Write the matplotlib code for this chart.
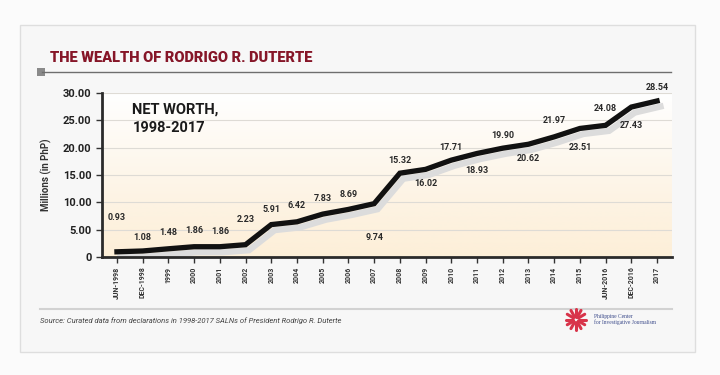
import numpy as np
import matplotlib
matplotlib.use('Agg')
import matplotlib.pyplot as plt
import matplotlib.transforms as mtrans
from matplotlib.patches import Rectangle
from matplotlib import font_manager as fm

# data
periods = ['JUN-1998', 'DEC-1998', '1999', '2000', '2001', '2002', '2003', '2004',
           '2005', '2006', '2007', '2008', '2009', '2010', '2011', '2012', '2013',
           '2014', '2015', 'JUN-2016', 'DEC-2016', '2017']
net_worth = [0.93, 1.08, 1.48, 1.86, 1.86, 2.23, 5.91, 6.42, 7.83, 8.69, 9.74,
             15.32, 16.02, 17.71, 18.93, 19.90, 20.62, 21.97, 23.51, 24.08, 27.43, 28.54]
y_ticks = [0, 5, 10, 15, 20, 25, 30]
y_ticklabels = ['0', '5.00', '10.00', '15.00', '20.00', '25.00', '30.00']

# label offsets (points)
lab_off = [25, 10, 12, 12, 11, 18, 11, 12, 11, 11, -24, 9, -10, 9, -12, 9, -10,
           12, -14, 12, -13, 10]

names = set(f.name for f in fm.fontManager.ttflist)
narrow = 'Roboto' if 'Roboto' in names else 'DejaVu Sans'

fig = plt.figure(figsize=(7.2, 3.75), dpi=100)
fig.patch.set_facecolor('#fbfbfb')

# card
card = Rectangle((0.028, 0.061), 0.937, 0.872, transform=fig.transFigure,
                 facecolor='#f7f7f7', edgecolor='#dedede', lw=1, zorder=-5)
fig.patches.append(card)

# title and rule
fig.text(0.069, 0.845, 'THE WEALTH OF RODRIGO R. DUTERTE', color='#861628',
         fontsize=10.5, fontweight='black', family=narrow, va='center')
fig.add_artist(plt.Line2D([0.058, 0.932], [0.808, 0.808], transform=fig.transFigure,
                          color='#6e6e6e', lw=1))
fig.patches.append(Rectangle((0.052, 0.797), 0.011, 0.022, transform=fig.transFigure,
                             facecolor='#8a8a8a', edgecolor='none'))

ax = fig.add_axes([0.1417, 0.315, 0.7916, 0.437])
ax.set_facecolor('none')
x = np.arange(len(periods))
ax.set_xlim(-0.58, len(periods) - 1 + 0.58)
ax.set_ylim(0, 30)

# cream gradient background
grad = np.linspace(0, 1, 256).reshape(-1, 1)
cmap = matplotlib.colors.LinearSegmentedColormap.from_list(
    'cr', ['#fdefd8', '#fdf3e3', '#fef9f1', '#ffffff'])
ax.imshow(grad, aspect='auto', cmap=cmap, extent=[-0.58, len(periods) - 0.42, 0, 30],
          origin='lower', zorder=0)
for yv in y_ticks[1:]:
    ax.axhline(yv, color='#dedbd5', lw=0.8, zorder=1)

shadow = ax.transData + mtrans.ScaledTranslation(2.5 / 72, -4 / 72, fig.dpi_scale_trans)
ax.plot(x, net_worth, color='#dcdcdc', lw=4.5, transform=shadow, zorder=2,
        solid_joinstyle='miter')
ax.plot(x, net_worth, color='#111111', lw=3.8, zorder=3, solid_joinstyle='miter')

for xi, v, off in zip(x, net_worth, lab_off):
    ax.annotate('%.2f' % v, (xi, v), xytext=(0, off), textcoords='offset points',
                ha='center', va='center', fontsize=6.5, fontweight='bold',
                color='#2a2a2a', family=narrow, zorder=4)

ax.text(0.6, 25.3, 'NET WORTH,\n1998-2017', fontsize=10.5, fontweight='bold',
        family=narrow, color='#1a1a1a', va='center', ha='left', linespacing=1.4)

for s in ['top', 'right']:
    ax.spines[s].set_visible(False)
ax.spines['left'].set_linewidth(2)
ax.spines['bottom'].set_linewidth(2)
ax.spines['left'].set_color('#2b2b2b')
ax.spines['bottom'].set_color('#2b2b2b')

ax.set_yticks(y_ticks)
ax.set_yticklabels(y_ticklabels, fontsize=8, fontweight='bold', family=narrow, color='#222222')
ax.set_xticks(x)
ax.set_xticklabels(periods, rotation=90, fontsize=5, fontweight='bold', family=narrow,
                   color='#333333')
ax.tick_params(axis='both', length=4, width=1, color='#333333')
ax.tick_params(axis='x', pad=3)
ax.set_ylabel('Millions (in PhP)', fontsize=7, fontweight='bold', family=narrow,
              color='#333333', labelpad=8)

# footer
fig.add_artist(plt.Line2D([0.056, 0.933], [0.176, 0.176], transform=fig.transFigure,
                          color='#d2d2d2', lw=1.5))
fig.text(0.056, 0.145, 'Source: Curated data from declarations in 1998-2017 SALNs of President Rodrigo R. Duterte',
         fontsize=5.5, style='italic', color='#444444', va='center', family=narrow)

# logo
cx, cy = 0.800, 0.148
ang = np.linspace(0, 2 * np.pi, 12, endpoint=False)
for a in ang:
    fig.add_artist(plt.Line2D([cx + 0.004 * np.cos(a), cx + 0.014 * np.cos(a)],
                              [cy + 0.008 * np.sin(a), cy + 0.028 * np.sin(a)],
                              transform=fig.transFigure, color='#d8344a', lw=2.2,
                              solid_capstyle='round'))
fig.text(0.825, 0.148, 'Philippine Center\nfor Investigative Journalism', fontsize=4,
         family='Liberation Serif', color='#3b4a8a', va='center', linespacing=1.1)

fig.savefig('out.png', dpi=100, facecolor=fig.get_facecolor())
